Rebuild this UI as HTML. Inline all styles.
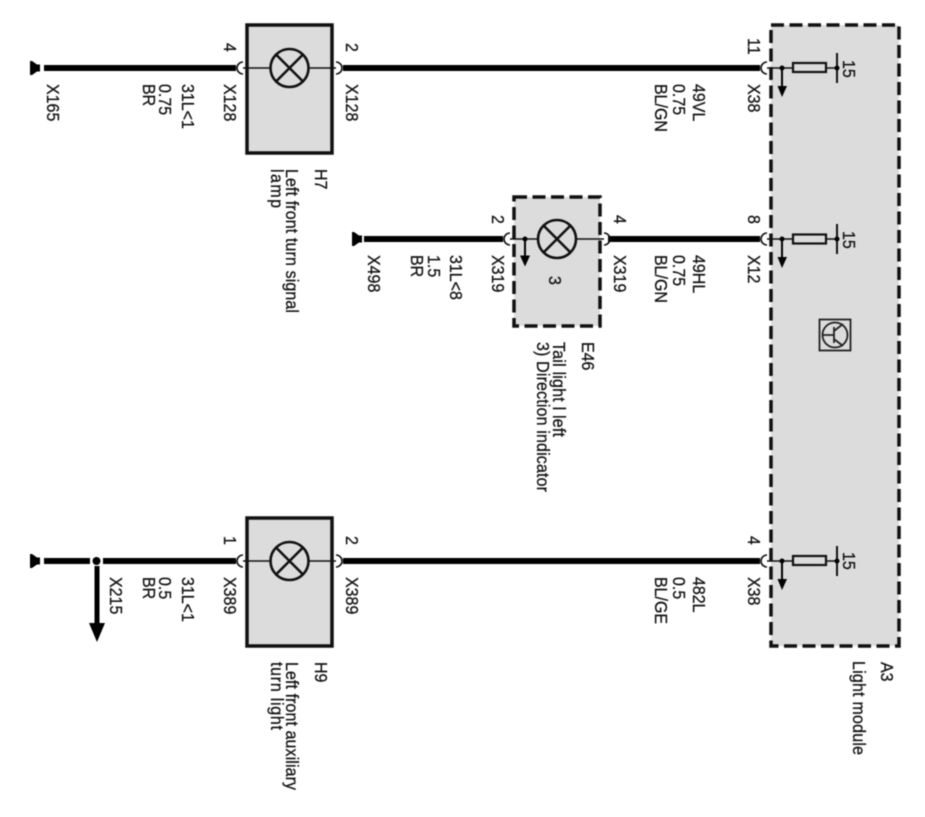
<!DOCTYPE html>
<html><head><meta charset="utf-8"><style>
html,body{margin:0;padding:0;background:#fff}
svg{display:block;filter:blur(.55px)}
text{font-family:"Liberation Sans",Arial,sans-serif;font-size:16px;fill:#111;stroke:#111;stroke-width:.25}
.w{stroke:#000;stroke-width:6;fill:none}
.t{stroke:#111;stroke-width:1.6;fill:none}
.b{fill:#dcdcdc;stroke:#111;stroke-width:3.5}
.d{fill:#dcdcdc;stroke:#111;stroke-width:3.5;stroke-dasharray:13 5.5}
.l{fill:none;stroke:#111;stroke-width:2.6}
</style></head><body>
<svg width="925" height="817" viewBox="0 0 925 817" xmlns="http://www.w3.org/2000/svg">
<rect width="925" height="817" fill="#fff"/>
<!-- Boxes -->
<rect class="d" x="771" y="25" width="128" height="621"/>
<rect class="b" x="247" y="25" width="85" height="128"/>
<rect class="b" x="247" y="518" width="85" height="128"/>
<rect class="d" x="514" y="197" width="86" height="129"/>
<!-- Wires -->
<path class="w" d="M44 68H236M343 68H760M364 239H503M608 239H760M44 561H90M103 561H236M343 561H760"/>
<!-- Thin -->
<path class="t" d="M243 68H271M308 68H336M243 561H271M308 561H336M510 239H538M576 239H604M767 68H793M826 68H837M767 239H793M826 239H837M767 561H793M826 561H837"/>
<!-- Connector arcs -->
<path class="t" stroke-width="2" d="M243 62A6 6 0 0 0 243 74M336 62A6 6 0 0 1 336 74M243 555A6 6 0 0 0 243 567M336 555A6 6 0 0 1 336 567M510 233A6 6 0 0 0 510 245M604 233A6 6 0 0 1 604 245M767 62A6 6 0 0 0 767 74M767 233A6 6 0 0 0 767 245M767 555A6 6 0 0 0 767 567"/>
<!-- Lamps -->
<g class="l">
<circle cx="289.500" cy="68" r="19"/><path d="M276 54.500L303 81.500M303 54.500L276 81.500"/>
<circle cx="289.500" cy="561" r="19"/><path d="M276 547.500L303 574.500M303 547.500L276 574.500"/>
<circle cx="557" cy="239" r="19"/><path d="M543.500 225.500L570.500 252.500M570.500 225.500L543.500 252.500"/>
</g>
<!-- Resistors -->
<g fill="#dcdcdc" stroke="#111" stroke-width="2.200">
<rect x="793" y="63" width="33" height="9"/>
<rect x="793" y="234.500" width="33" height="9"/>
<rect x="793" y="556" width="33" height="9"/>
</g>
<path stroke="#111" stroke-width="2" d="M837 53V83M837 224V254M837 546V576"/>
<g fill="#000">
<circle cx="837" cy="68" r="2.500"/><circle cx="837" cy="239" r="2.500"/><circle cx="837" cy="561" r="2.500"/>
<circle cx="782" cy="68" r="2.500"/><circle cx="782" cy="239" r="2.500"/><circle cx="782" cy="561" r="2.500"/>
<circle cx="525" cy="239" r="2.500"/>
<circle cx="96.500" cy="561" r="4"/>
<!-- small arrows -->
<path d="M777.500 86H787L782 97ZM777.500 257H787L782 268ZM777.500 579H787L782 590ZM520 255.500H530L525 266.500Z"/>
<!-- big arrow -->
<path d="M89 623H105L97 642Z"/>
<!-- grounds -->
<path d="M30 61H32L37 64.500H40V71.500H37L32 75H30ZM352 232H354L359 235.500H362V242.500H359L354 246H352ZM30 554H32L37 557.500H40V564.500H37L32 568H30Z"/>
</g>
<path stroke="#000" stroke-width="2" d="M782 68V88M782 239V259M782 561V581M525 239V257"/>
<path stroke="#000" stroke-width="5" d="M97 566V625"/>
<!-- Transistor symbol -->
<g fill="none" stroke="#222" stroke-width="1.800">
<rect x="819.500" y="319.500" width="31" height="31"/>
<circle cx="835" cy="335" r="12.500"/>
<path d="M823 335H834M834 327V343M834 331L843 324M834 339L843 346"/>
</g>
<!-- Labels -->
<text transform="translate(47,84) rotate(90) scale(1,1.12)">X165</text>
<text transform="translate(182,84) rotate(90) scale(1,1.12)">31L&lt;1</text>
<text transform="translate(159,84) rotate(90) scale(1,1.12)">0.75</text>
<text transform="translate(143,84) rotate(90) scale(1,1.12)">BR</text>
<text transform="translate(224,84) rotate(90) scale(1,1.12)">X128</text>
<text transform="translate(224,43) rotate(90) scale(1,1.12)">4</text>
<text transform="translate(346,84) rotate(90) scale(1,1.12)">X128</text>
<text transform="translate(346,43) rotate(90) scale(1,1.12)">2</text>
<text transform="translate(315,169) rotate(90) scale(1,1.12)">H7</text>
<text transform="translate(286,169) rotate(90) scale(1,1.12)" textLength="144">Left front turn signal</text>
<text transform="translate(271,169) rotate(90) scale(1,1.12)" textLength="39">lamp</text>
<text transform="translate(693,84) rotate(90) scale(1,1.12)">49VL</text>
<text transform="translate(673,84) rotate(90) scale(1,1.12)">0.75</text>
<text transform="translate(655,84) rotate(90) scale(1,1.12)">BL/GN</text>
<text transform="translate(748,84) rotate(90) scale(1,1.12)">X38</text>
<text transform="translate(748,38) rotate(90) scale(1,1.12)">11</text>
<text transform="translate(843,60) rotate(90) scale(1,1.12)">15</text>

<text transform="translate(368,255) rotate(90) scale(1,1.12)">X498</text>
<text transform="translate(450,255) rotate(90) scale(1,1.12)">31L&lt;8</text>
<text transform="translate(428,255) rotate(90) scale(1,1.12)">1.5</text>
<text transform="translate(411,255) rotate(90) scale(1,1.12)">BR</text>
<text transform="translate(492,255) rotate(90) scale(1,1.12)">X319</text>
<text transform="translate(492,215) rotate(90) scale(1,1.12)">2</text>
<text transform="translate(614,255) rotate(90) scale(1,1.12)">X319</text>
<text transform="translate(614,215) rotate(90) scale(1,1.12)">4</text>
<text transform="translate(549,276) rotate(90) scale(1,1.12)">3</text>
<text transform="translate(582,342) rotate(90) scale(1,1.12)">E46</text>
<text transform="translate(553,342) rotate(90) scale(1,1.12)" textLength="95">Tail light l left</text>
<text transform="translate(537,342) rotate(90) scale(1,1.12)" textLength="150">3) Direction indicator</text>
<text transform="translate(693,255) rotate(90) scale(1,1.12)">49HL</text>
<text transform="translate(673,255) rotate(90) scale(1,1.12)">0.75</text>
<text transform="translate(655,255) rotate(90) scale(1,1.12)">BL/GN</text>
<text transform="translate(748,255) rotate(90) scale(1,1.12)">X12</text>
<text transform="translate(748,215) rotate(90) scale(1,1.12)">8</text>
<text transform="translate(843,231) rotate(90) scale(1,1.12)">15</text>

<text transform="translate(110,577) rotate(90) scale(1,1.12)">X215</text>
<text transform="translate(182,577) rotate(90) scale(1,1.12)">31L&lt;1</text>
<text transform="translate(159,577) rotate(90) scale(1,1.12)">0.5</text>
<text transform="translate(143,577) rotate(90) scale(1,1.12)">BR</text>
<text transform="translate(224,577) rotate(90) scale(1,1.12)">X389</text>
<text transform="translate(224,536) rotate(90) scale(1,1.12)">1</text>
<text transform="translate(346,577) rotate(90) scale(1,1.12)">X389</text>
<text transform="translate(346,536) rotate(90) scale(1,1.12)">2</text>
<text transform="translate(315,662) rotate(90) scale(1,1.12)">H9</text>
<text transform="translate(286,662) rotate(90) scale(1,1.12)" textLength="128">Left front auxiliary</text>
<text transform="translate(271,662) rotate(90) scale(1,1.12)" textLength="68">turn light</text>
<text transform="translate(693,577) rotate(90) scale(1,1.12)">482L</text>
<text transform="translate(673,577) rotate(90) scale(1,1.12)">0.5</text>
<text transform="translate(655,577) rotate(90) scale(1,1.12)">BL/GE</text>
<text transform="translate(748,577) rotate(90) scale(1,1.12)">X38</text>
<text transform="translate(748,536) rotate(90) scale(1,1.12)">4</text>
<text transform="translate(843,552) rotate(90) scale(1,1.12)">15</text>
<text transform="translate(881,662) rotate(90) scale(1,1.12)">A3</text>
<text transform="translate(853,661) rotate(90) scale(1,1.12)" textLength="94">Light module</text>
</svg>
</body></html>
